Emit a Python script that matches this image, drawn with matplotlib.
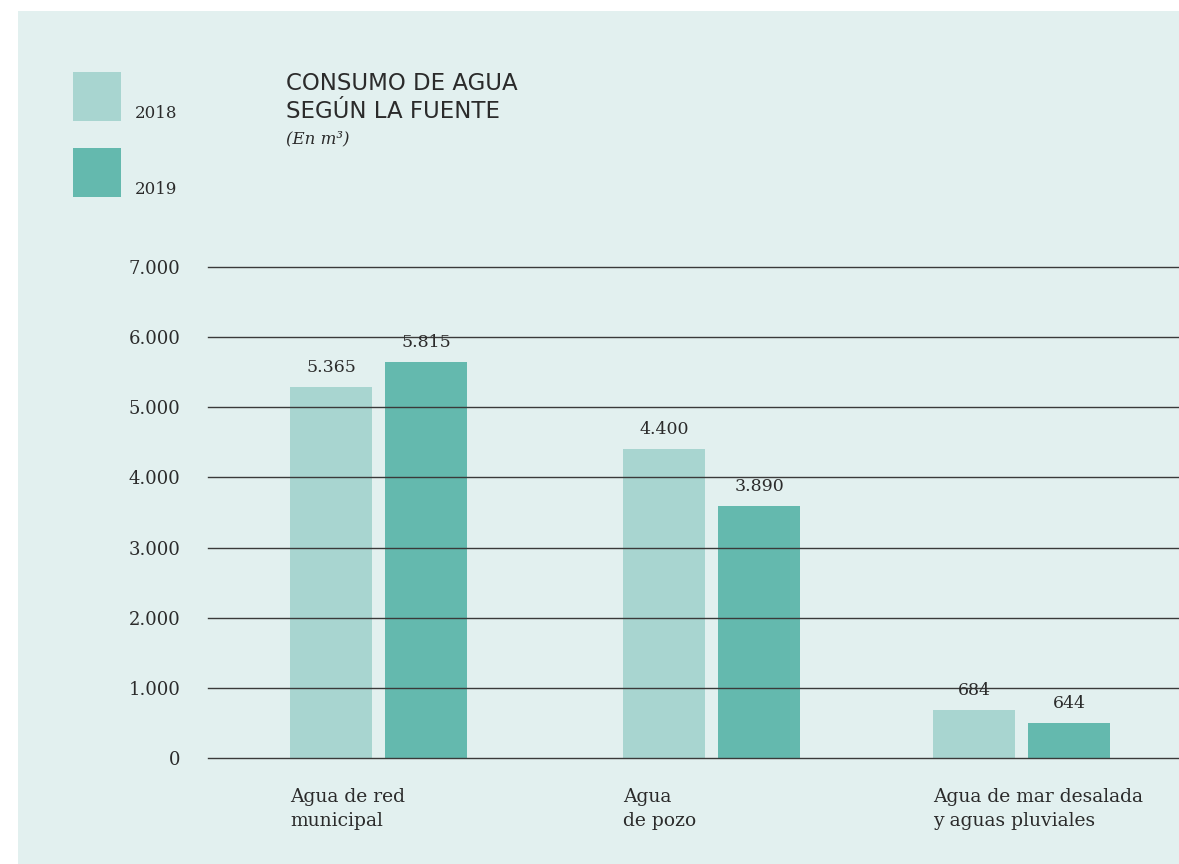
#!/usr/bin/env python
# coding=utf-8
"""
Consumo de agua segun la fuente (2018 vs 2019), bar chart
"""

import matplotlib
matplotlib.use('Agg')
import matplotlib.pyplot as plt
from matplotlib.patches import Rectangle

#  Data
categories = ['Agua de red\nmunicipal', 'Agua\nde pozo',
              'Agua de mar desalada\ny aguas pluviales']
years = ['2018', '2019']
#  Bar heights as drawn in the reference (m^3)
heights_2018 = [5295, 4405, 684]
heights_2019 = [5645, 3595, 503]
#  Printed value labels
labels_2018 = ['5.365', '4.400', '684']
labels_2019 = ['5.815', '3.890', '644']
y_ticks = [0, 1000, 2000, 3000, 4000, 5000, 6000, 7000]

#  Style
c_bg = '#e2f0ef'
c_2018 = '#a8d5d0'
c_2019 = '#64b9ae'
c_text = '#2b2b2b'
serif = ['DejaVu Serif']
sans = ['DejaVu Sans']

W, H = 1179, 864
fig = plt.figure(figsize=(W / 100, H / 100), dpi=100)
fig.patch.set_facecolor('white')
fig.patches.append(Rectangle((18 / W, 0), 1 - 18 / W, 1 - 11 / H,
                             transform=fig.transFigure,
                             facecolor=c_bg, edgecolor='none', zorder=-5))

#  Axes in pixel-like x units
ax = fig.add_axes([208 / W, (H - 758) / H, 1 - 208 / W, (758 - 267) / H])
ax.set_facecolor('none')
ax.set_zorder(2)
ax.set_xlim(208, 1179)
ax.set_ylim(0, 7000)

bar_w = 82
group_left = [290, 623, 933]
gap = 13

for i in range(len(categories)):
    x1 = group_left[i]
    x2 = x1 + bar_w + gap
    ax.bar(x1, heights_2018[i], width=bar_w, align='edge',
           color=c_2018, zorder=2)
    ax.bar(x2, heights_2019[i], width=bar_w, align='edge',
           color=c_2019, zorder=2)
    ax.annotate(labels_2018[i], (x1 + bar_w / 2, heights_2018[i]),
                xytext=(0, 14), textcoords='offset points',
                ha='center', va='center', fontsize=12.5,
                family=serif, color=c_text, zorder=4)
    ax.annotate(labels_2019[i], (x2 + bar_w / 2, heights_2019[i]),
                xytext=(0, 14), textcoords='offset points',
                ha='center', va='center', fontsize=12.5,
                family=serif, color=c_text, zorder=4)
    ax.text(x1, -430, categories[i], ha='left', va='top',
            fontsize=13.5, family=serif, color=c_text, linespacing=1.4)

#  Grid lines drawn over the bars
for v in y_ticks:
    ax.axhline(v, color='#3a3a3a', lw=1.0, zorder=3, clip_on=False)

ax.set_yticks(y_ticks)
ax.set_yticklabels([f'{v:,}'.replace(',', '.') for v in y_ticks],
                   family=serif, fontsize=13, color=c_text)
ax.tick_params(axis='y', length=0, pad=20)
ax.set_xticks([])
for s in ax.spines.values():
    s.set_visible(False)

#  Legend
for j, (yr, col) in enumerate(zip(years, [c_2018, c_2019])):
    top = 72 + j * 76
    fig.patches.append(Rectangle((73 / W, (H - top - 49) / H), 48 / W,
                                 49 / H, transform=fig.transFigure,
                                 facecolor=col, edgecolor='none'))
    fig.text(135 / W, (H - top - 42) / H, yr, ha='left', va='center',
             fontsize=12, family=serif, color=c_text)

#  Title
fig.text(286 / W, (H - 83) / H, 'CONSUMO DE AGUA', ha='left', va='center',
         fontsize=16.5, family=sans, color=c_text)
fig.text(286 / W, (H - 112) / H, 'SEGÚN LA FUENTE', ha='left', va='center',
         fontsize=16.5, family=sans, color=c_text)
fig.text(286 / W, (H - 139) / H, '(En m³)', ha='left', va='center',
         fontsize=12, family=serif, style='italic', color=c_text)

fig.savefig('out.png', dpi=100, facecolor='white')
